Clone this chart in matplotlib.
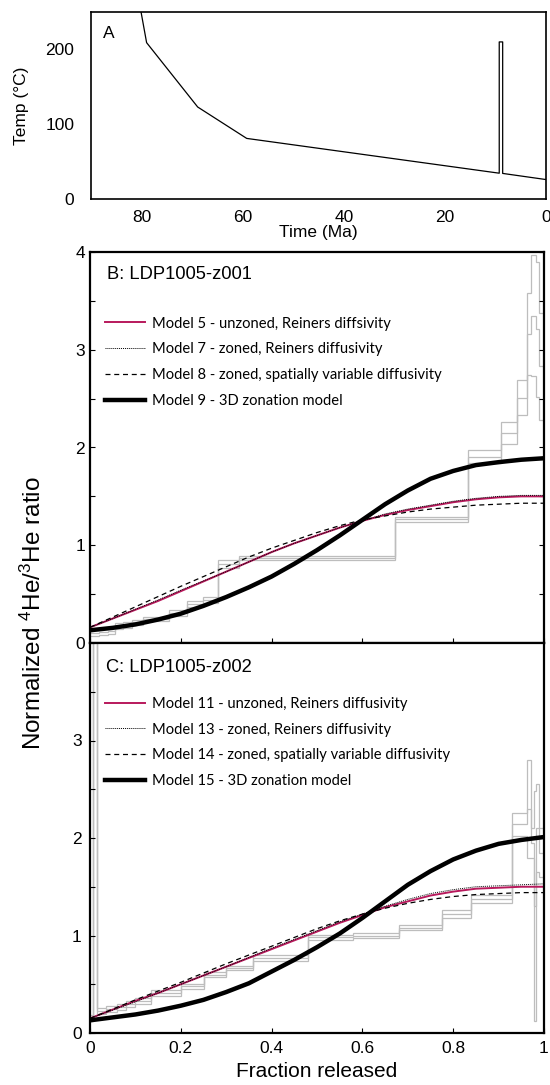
import numpy as np
import matplotlib.pyplot as plt

plt.rcParams['font.family'] = ['Liberation Sans', 'DejaVu Sans']

# Panel A: time-temperature path
path_time = [80.1, 79.0, 68.9, 59.2, 9.25, 9.25, 8.57, 8.57, 0.0]
path_temp = [250, 209, 123, 81, 34.5, 210, 210, 34.2, 26]

# Panel B: LDP1005-z001 step data (fraction edges, ratio, error)
b_edges = [0.0, 0.02, 0.04, 0.055, 0.073, 0.092, 0.117, 0.174, 0.214, 0.249, 0.283,
           0.328, 0.672, 0.832, 0.905, 0.94, 0.962, 0.972, 0.982, 0.99, 0.998]
b_ratio = [0.10, 0.11, 0.12, 0.17, 0.18, 0.21, 0.25, 0.31, 0.40, 0.44,
           0.81, 0.865, 1.265, 1.905, 2.15, 2.51, 3.16, 3.35, 3.21, 2.83]
b_err = [0.03, 0.03, 0.03, 0.03, 0.03, 0.03, 0.02, 0.03, 0.03, 0.03,
         0.04, 0.02, 0.025, 0.065, 0.11, 0.18, 0.42, 0.62, 0.69, 0.55]

# Panel C: LDP1005-z002 step data
c_edges = [0.0, 0.006, 0.016, 0.035, 0.06, 0.08, 0.1, 0.135, 0.2, 0.25, 0.3, 0.36,
           0.48, 0.58, 0.68, 0.775, 0.84, 0.93, 0.962, 0.972, 0.978, 0.982, 0.99, 0.998]
c_ratio = [0.15, 6.0, 0.23, 0.25, 0.27, 0.30, 0.33, 0.41, 0.48, 0.60, 0.67, 0.77,
           0.98, 1.00, 1.08, 1.22, 1.375, 2.14, 2.3, 1.95, 1.3, 2.1, 1.85]
c_err = [0.03, 0.0, 0.03, 0.03, 0.03, 0.03, 0.03, 0.03, 0.025, 0.025, 0.02, 0.03,
         0.025, 0.03, 0.025, 0.045, 0.045, 0.12, 0.5, 0.15, 1.18, 0.45, 0.25]

# model curves, sampled every 0.05 in fraction released
frac = [0.0, 0.05, 0.1, 0.15, 0.2, 0.25, 0.3, 0.35, 0.4, 0.45, 0.5,
        0.55, 0.6, 0.65, 0.7, 0.75, 0.8, 0.85, 0.9, 0.95, 1.0]
b_m5 = [0.16, 0.25, 0.34, 0.43, 0.53, 0.63, 0.73, 0.83, 0.93, 1.02, 1.10,
        1.18, 1.25, 1.31, 1.36, 1.40, 1.44, 1.47, 1.49, 1.50, 1.50]
b_m7 = [0.16, 0.25, 0.345, 0.44, 0.54, 0.635, 0.73, 0.83, 0.93, 1.02, 1.10,
        1.18, 1.25, 1.32, 1.37, 1.41, 1.45, 1.48, 1.50, 1.51, 1.51]
b_m8 = [0.16, 0.265, 0.37, 0.475, 0.58, 0.68, 0.78, 0.88, 0.97, 1.05, 1.13,
        1.20, 1.26, 1.30, 1.34, 1.37, 1.39, 1.41, 1.42, 1.43, 1.43]
b_m9 = [0.13, 0.155, 0.19, 0.24, 0.30, 0.38, 0.47, 0.57, 0.68, 0.81, 0.95,
        1.10, 1.26, 1.42, 1.56, 1.68, 1.76, 1.82, 1.85, 1.875, 1.89]
c_m11 = [0.15, 0.24, 0.33, 0.41, 0.50, 0.59, 0.68, 0.77, 0.86, 0.95, 1.04,
         1.13, 1.21, 1.29, 1.35, 1.41, 1.45, 1.48, 1.49, 1.50, 1.50]
c_m13 = [0.15, 0.235, 0.32, 0.41, 0.50, 0.59, 0.68, 0.775, 0.87, 0.96, 1.05,
         1.14, 1.22, 1.30, 1.37, 1.43, 1.47, 1.50, 1.51, 1.52, 1.53]
c_m14 = [0.15, 0.245, 0.34, 0.43, 0.52, 0.615, 0.71, 0.80, 0.89, 0.98, 1.07,
         1.15, 1.22, 1.28, 1.33, 1.37, 1.40, 1.42, 1.43, 1.44, 1.44]
c_m15 = [0.13, 0.16, 0.19, 0.23, 0.28, 0.34, 0.42, 0.51, 0.63, 0.75, 0.88,
         1.02, 1.18, 1.35, 1.52, 1.66, 1.78, 1.87, 1.94, 1.98, 2.01]

b_names = ['Model 5 - unzoned, Reiners diffsivity',
           'Model 7 - zoned, Reiners diffusivity',
           'Model 8 - zoned, spatially variable diffusivity',
           'Model 9 - 3D zonation model']
c_names = ['Model 11 - unzoned, Reiners diffusivity',
           'Model 13 - zoned, Reiners diffusivity',
           'Model 14 - zoned, spatially variable diffusivity',
           'Model 15 - 3D zonation model']

crimson = '#b8195c'
grey = '#bdbdbd'

fig = plt.figure(figsize=(5.5, 10.85), dpi=100)

# ---- A ----
axA = fig.add_axes([91/550, (1085-199)/1085, 455/550, 187/1085])
axA.plot(path_time, path_temp, color='black', lw=0.9)
axA.set_xlim(90, 0)
axA.set_ylim(0, 250)
axA.set_xticks([80, 60, 40, 20, 0])
axA.set_yticks([0, 100, 200])
axA.tick_params(length=0, labelsize=12.5)
axA.tick_params(axis='y', pad=12)
axA.tick_params(axis='x', pad=8)
axA.set_xlabel('Time (Ma)', fontsize=12.5, labelpad=0)
axA.set_ylabel('Temp (°C)', fontsize=12.5, labelpad=12)
axA.text(0.027, 0.86, 'A', transform=axA.transAxes, fontsize=12.5)
for s in axA.spines.values():
    s.set_linewidth(1.2)


def step_panel(ax, edges, ratio, err):
    ratio = np.array(ratio)
    err = np.array(err)
    for v in (ratio - err, ratio, ratio + err):
        ax.stairs(v, edges, baseline=None, color=grey, lw=0.9)


def model_curves(ax, ys, names):
    ax.plot(frac, ys[0], color=crimson, lw=1.4, label=names[0])
    ax.plot(frac, ys[1], color='black', lw=0.7, ls=(0, (1, 1)), label=names[1])
    ax.plot(frac, ys[2], color='black', lw=0.9, ls=(0, (4, 3)), label=names[2])
    ax.plot(frac, ys[3], color='black', lw=3.2, label=names[3])


axB = fig.add_axes([90/550, (1085-643)/1085, 454/550, 391/1085])
axC = fig.add_axes([90/550, (1085-1033)/1085, 454/550, 390/1085], sharex=axB)

step_panel(axB, b_edges, b_ratio, b_err)
model_curves(axB, [b_m5, b_m7, b_m8, b_m9], b_names)
step_panel(axC, c_edges, c_ratio, c_err)
model_curves(axC, [c_m11, c_m13, c_m14, c_m15], c_names)

for ax in (axB, axC):
    ax.set_xlim(0, 1)
    ax.set_ylim(0, 4)
    ax.set_yticks(np.arange(0, 4.01, 0.5))
    for s in ax.spines.values():
        s.set_linewidth(1.6)
    ax.set_xticks([0, 0.2, 0.4, 0.6, 0.8, 1.0])

axB.set_yticklabels(['0', '', '1', '', '2', '', '3', '', '4'])
axC.set_yticklabels(['0', '', '1', '', '2', '', '3', '', ''])
axB.tick_params(axis='both', direction='in', length=3.5, width=0.8, labelsize=12.5)
axB.tick_params(axis='y', right=True)
axB.tick_params(axis='x', labelbottom=False)
axC.tick_params(axis='both', direction='in', length=3.5, width=0.8, labelsize=12.5, pad=6)
axC.set_xticklabels(['0', '0.2', '0.4', '0.6', '0.8', '1'])
axC.set_xlabel('Fraction released', fontsize=15, labelpad=4)

fig.text(33/550, (1085-613)/1085, 'Normalized $\\mathregular{^4}$He/$\\mathregular{^3}$He ratio',
         rotation=90, ha='center', va='center', fontsize=17.5)

axB.text(0.037, 0.942, 'B: LDP1005-z001', transform=axB.transAxes, fontsize=13.2, va='center')
axC.text(0.035, 0.938, 'C: LDP1005-z002', transform=axC.transAxes, fontsize=13.2, va='center')

legB = axB.legend(loc='upper left', bbox_to_anchor=(0.02, 0.85), frameon=False,
                  handlelength=2.75, handletextpad=0.45, labelspacing=0.8, borderaxespad=0,
                  prop={'family': 'Lato', 'size': 10.6})
legC = axC.legend(loc='upper left', bbox_to_anchor=(0.02, 0.877), frameon=False,
                  handlelength=2.75, handletextpad=0.45, labelspacing=0.8, borderaxespad=0,
                  prop={'family': 'Lato', 'size': 10.6})

fig.savefig('out.png', dpi=100)
